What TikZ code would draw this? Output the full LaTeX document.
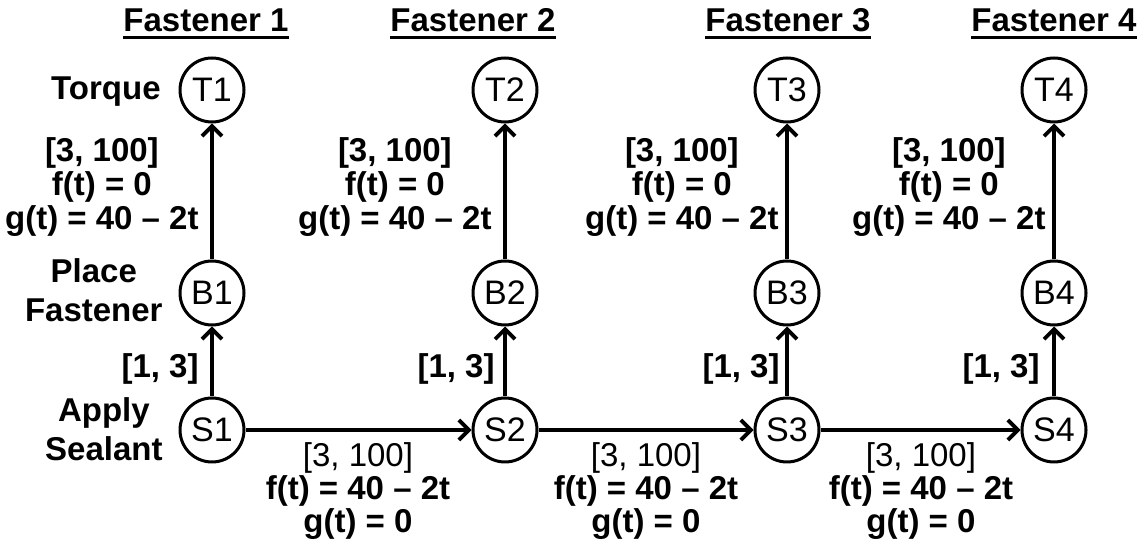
\documentclass[tikz,border=0pt]{standalone}
\usepackage{fontspec}
\setmainfont{Liberation Sans}
\usetikzlibrary{arrows.meta}

\begin{document}
\begin{tikzpicture}[x=0.5pt,y=-0.5pt,
  every node/.style={font=\fontsize{16.5}{17}\selectfont},
  ev/.style={circle,draw,line width=1.5pt,minimum size=32pt,inner sep=0pt,
    font=\fontsize{17}{18}\selectfont},
  lab/.style={font=\fontsize{16.5}{17}\selectfont\bfseries,align=center,inner sep=0pt},
  title/.style={font=\fontsize{16.5}{17}\selectfont\bfseries,inner sep=0pt,anchor=base},
  arr/.style={line width=1.9pt,-{Straight Barb[length=5pt,width=10pt,line width=1.9pt]}}]
\useasboundingbox (0,0) rectangle (1146,544);
% titles
\node[title] (F1) at (206,32) {Fastener 1};
\node[title] (F2) at (473,32) {Fastener 2};
\node[title] (F3) at (788,32) {Fastener 3};
\node[title] (F4) at (1054,32) {Fastener 4};
\draw[line width=1.4pt] ([yshift=-2.2pt]F1.south west) -- ([yshift=-2.2pt]F1.south east);
\draw[line width=1.4pt] ([yshift=-2.2pt]F2.south west) -- ([yshift=-2.2pt]F2.south east);
\draw[line width=1.4pt] ([yshift=-2.2pt]F3.south west) -- ([yshift=-2.2pt]F3.south east);
\draw[line width=1.4pt] ([yshift=-2.2pt]F4.south west) -- ([yshift=-2.2pt]F4.south east);
% events
\node[ev] (T1) at (212,90) {T1};
\node[ev] (B1) at (212,293) {B1};
\node[ev] (S1) at (212,430) {S1};
\node[ev] (T2) at (505,90) {T2};
\node[ev] (B2) at (505,293) {B2};
\node[ev] (S2) at (505,430) {S2};
\node[ev] (T3) at (787,90) {T3};
\node[ev] (B3) at (787,293) {B3};
\node[ev] (S3) at (787,430) {S3};
\node[ev] (T4) at (1054,90) {T4};
\node[ev] (B4) at (1054,293) {B4};
\node[ev] (S4) at (1054,430) {S4};
% row names
\node[lab,anchor=east] (rT) at (161,92) {Torque};
\node[lab,anchor=east,font=\fontsize{16.5}{19.5}\selectfont\bfseries] (rB) at (163,290) {Place\\Fastener};
\node[lab,anchor=east,font=\fontsize{16.5}{19.5}\selectfont\bfseries] (rS) at (163,429) {Apply\\Sealant};
% constraints
\draw[arr] (B1) -- (T1);
\draw[arr] (S1) -- (B1);
\draw[arr] (B2) -- (T2);
\draw[arr] (S2) -- (B2);
\draw[arr] (B3) -- (T3);
\draw[arr] (S3) -- (B3);
\draw[arr] (B4) -- (T4);
\draw[arr] (S4) -- (B4);
\draw[arr] (S1) -- (S2);
\draw[arr] (S2) -- (S3);
\draw[arr] (S3) -- (S4);
\node[lab,anchor=east] (bt1) at (199,187) {[3, 100]\\f(t) = 0\\g(t) = 40 -- 2t};
\node[lab,anchor=east] (bt2) at (492,187) {[3, 100]\\f(t) = 0\\g(t) = 40 -- 2t};
\node[lab,anchor=east] (bt3) at (779,187) {[3, 100]\\f(t) = 0\\g(t) = 40 -- 2t};
\node[lab,anchor=east] (bt4) at (1046,187) {[3, 100]\\f(t) = 0\\g(t) = 40 -- 2t};
\node[lab,anchor=east] (sb1) at (199,369) {[1, 3]};
\node[lab,anchor=east] (sb2) at (495,369) {[1, 3]};
\node[lab,anchor=east] (sb3) at (780,369) {[1, 3]};
\node[lab,anchor=east] (sb4) at (1040,369) {[1, 3]};
\node[lab,font=\fontsize{16.5}{15}\selectfont\bfseries] (ss1) at (358,491) {{\mdseries [3, 100]}\\f(t) = 40 -- 2t\\g(t) = 0};
\node[lab,font=\fontsize{16.5}{15}\selectfont\bfseries] (ss2) at (646,491) {{\mdseries [3, 100]}\\f(t) = 40 -- 2t\\g(t) = 0};
\node[lab,font=\fontsize{16.5}{15}\selectfont\bfseries] (ss3) at (921,491) {{\mdseries [3, 100]}\\f(t) = 40 -- 2t\\g(t) = 0};
\end{tikzpicture}
\end{document}
